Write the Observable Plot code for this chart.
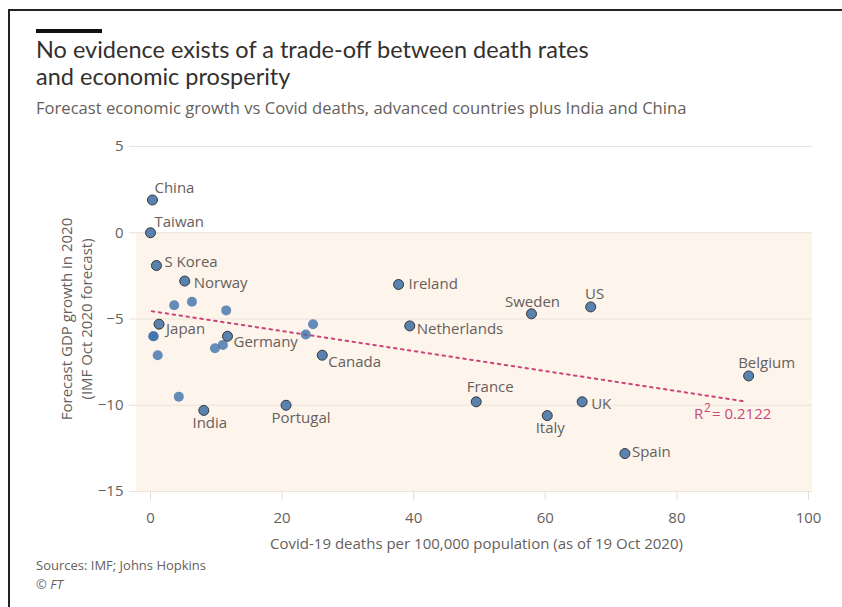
<!DOCTYPE html>
<html>
<head>
<meta charset="utf-8">
<script src="https://cdn.jsdelivr.net/npm/d3@7"></script>
<script src="https://cdn.jsdelivr.net/npm/@observablehq/plot@0.6"></script>
<style>
  html, body { margin: 0; padding: 0; background: #fff; }
  body { width: 842px; height: 607px; position: relative; overflow: hidden; font-family: "Open Sans", Lato, sans-serif; }
  .frame-top { position: absolute; left: 8px; top: 9px; width: 834px; height: 2px; background: #222; }
  .frame-left { position: absolute; left: 8px; top: 9px; width: 2px; height: 598px; background: #222; }
  .bar { position: absolute; left: 36px; top: 29px; width: 66px; height: 4px; background: #111; }
  .title { position: absolute; left: 36px; top: 36px; font-family: Lato, sans-serif; font-size: 23.5px; line-height: 27px; color: #33302e; }
  .subtitle { position: absolute; left: 36px; top: 98px; font-size: 16.6px; line-height: 20px; color: #66605c; }
  .source { position: absolute; left: 36px; top: 557px; font-size: 13px; line-height: 16px; color: #66605c; }
  .ft { position: absolute; left: 36px; top: 576px; font-size: 13px; line-height: 16px; color: #66605c; font-style: italic; }
  #chart { position: absolute; left: 0; top: 120px; }
</style>
</head>
<body>
<div class="frame-top"></div>
<div class="frame-left"></div>
<div class="bar"></div>
<div class="title">No evidence exists of a trade-off between death rates<br>and economic prosperity</div>
<div class="subtitle">Forecast economic growth vs Covid deaths, advanced countries plus India and China</div>
<div id="chart"></div>
<div class="source">Sources: IMF; Johns Hopkins</div>
<div class="ft">© FT</div>
<script>
// Labelled countries
const labelledNames  = ["China", "Taiwan", "S Korea", "Norway", "Japan", "Germany", "Canada", "India", "Portugal",
                        "Ireland", "Netherlands", "Sweden", "US", "Belgium", "France", "UK", "Italy", "Spain"];
const labelledDeaths = [0.3, 0.0, 0.9, 5.2, 1.3, 11.7, 26.1, 8.1, 20.6,
                        37.7, 39.4, 57.9, 66.9, 90.9, 49.5, 65.6, 60.3, 72.1];
const labelledGrowth = [1.9, 0.0, -1.9, -2.8, -5.3, -6.0, -7.1, -10.3, -10.0,
                        -3.0, -5.4, -4.7, -4.3, -8.3, -9.8, -9.8, -10.6, -12.8];
// Unlabelled countries
const otherDeaths = [3.6, 6.3, 11.5, 0.4, 0.5, 1.1, 4.3, 9.8, 11.0, 23.6, 24.7];
const otherGrowth = [-4.2, -4.0, -4.5, -6.0, -6.0, -7.1, -9.5, -6.7, -6.5, -5.9, -5.3];
// Trend line and fit statistic
const trendDeaths = [0.2, 90.2];
const trendGrowth = [-4.55, -9.77];
const rSquared = "0.2122";
// Axes
const xTicks = [0, 20, 40, 60, 80, 100];
const yTicks = [5, 0, -5, -10, -15];
const xTitle = "Covid-19 deaths per 100,000 population (as of 19 Oct 2020)";
const yTitle = "Forecast GDP growth in 2020\n(IMF Oct 2020 forecast)";

// label placement (layout only)
const placement = {
  "China": ["start", 2, -12], "Taiwan": ["start", 4, -11], "S Korea": ["start", 8, -3],
  "Norway": ["start", 9, 2], "Japan": ["start", 7, 5], "Germany": ["start", 6, 6],
  "Canada": ["start", 6, 7], "India": ["middle", 6, 13], "Portugal": ["middle", 15, 13],
  "Ireland": ["start", 10, 0], "Netherlands": ["start", 7, 3], "Sweden": ["middle", 1, -12],
  "US": ["middle", 4, -13], "Belgium": ["middle", 18, -13], "France": ["middle", 14, -15],
  "UK": ["start", 9, 2], "Italy": ["middle", 3, 13], "Spain": ["start", 7, -1]
};

const labelled = labelledNames.map((name, i) => ({name, x: labelledDeaths[i], y: labelledGrowth[i]}));
const others = otherDeaths.map((x, i) => ({x, y: otherGrowth[i]}));
const trend = trendDeaths.map((x, i) => ({x, y: trendGrowth[i]}));

const gray = "#66605c";
const fs = 15;
const labelMarks = labelled.map(d => {
  const [anchor, dx, dy] = placement[d.name];
  return Plot.text([d], {x: "x", y: "y", text: "name", textAnchor: anchor, dx, dy, fill: gray, fontSize: fs});
});

const chart = Plot.plot({
  width: 842,
  height: 440,
  marginLeft: 150,
  marginRight: 34,
  marginTop: 26,
  marginBottom: 69,
  style: {fontFamily: "'Open Sans', Lato, sans-serif", fontSize: "15px", background: "transparent"},
  x: {domain: [0, 100]},
  y: {domain: [-15, 5]},
  marks: [
    Plot.rect([0], {x1: -2.1, x2: 100.6, y1: -15, y2: 0, fill: "#fdf4ec"}),
    Plot.ruleY(yTicks, {x1: -3.2, x2: 100.6, stroke: "#ebe2d9", strokeWidth: 1}),
    Plot.axisY({ticks: yTicks, tickSize: 0, tickPadding: 27, fill: gray, fontSize: fs, label: null}),
    Plot.axisX({ticks: xTicks, tickSize: 9, tickPadding: 12, stroke: "#e6ddd4", fill: gray, fontSize: fs, label: null}),
    Plot.text([xTitle], {frameAnchor: "bottom", lineAnchor: "middle", dx: -3, dy: 53, fill: gray, fontSize: fs}),
    Plot.text([yTitle], {frameAnchor: "left", textAnchor: "middle", lineAnchor: "middle", rotate: -90, dx: -75, lineHeight: 1.3, fill: gray, fontSize: fs}),
    Plot.line(trend, {x: "x", y: "y", stroke: "#cc4478", strokeWidth: 2, strokeDasharray: "2.5,4.5"}),
    Plot.text([trend[1]], {x: "x", y: "y", text: () => "R", textAnchor: "start", dx: -50, dy: 13, fill: "#c94a78", fontSize: 15}),
    Plot.text([trend[1]], {x: "x", y: "y", text: () => "2", textAnchor: "start", dx: -40, dy: 7, fill: "#c94a78", fontSize: 12}),
    Plot.text([trend[1]], {x: "x", y: "y", text: () => "= " + rSquared, textAnchor: "start", dx: -32, dy: 13, fill: "#c94a78", fontSize: 15}),
    Plot.dot(others, {x: "x", y: "y", r: 5, fill: "#3a6eaa", fillOpacity: 0.78}),
    Plot.dot(labelled, {x: "x", y: "y", r: 5, fill: "#5a82ae", stroke: "#34373c", strokeWidth: 1}),
    ...labelMarks
  ]
});
document.getElementById("chart").appendChild(chart);
</script>
</body>
</html>
